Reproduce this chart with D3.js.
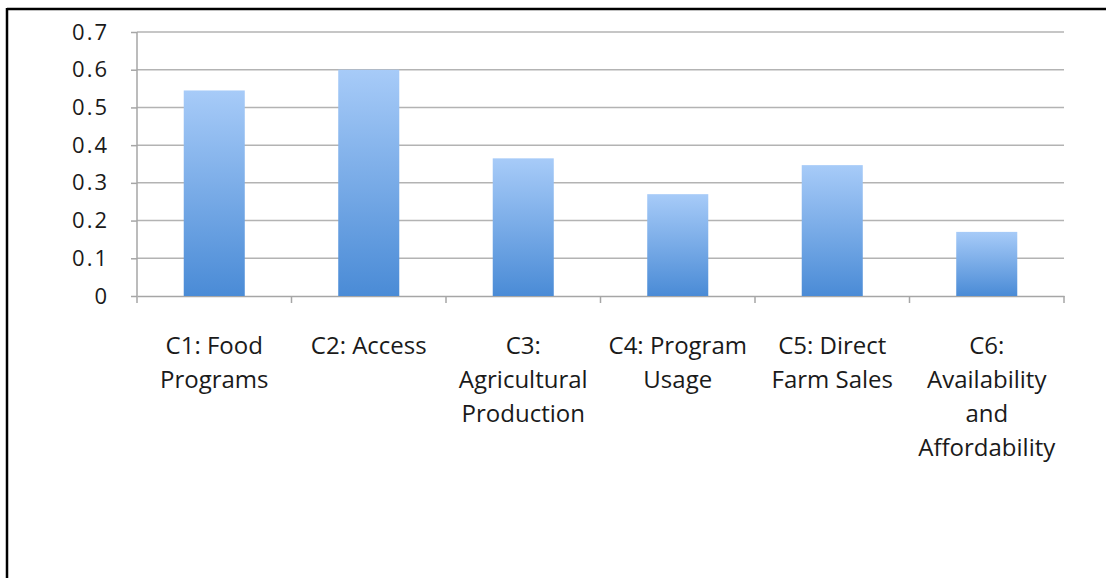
<!DOCTYPE html>
<html>
<head>
<meta charset="utf-8">
<script src="https://cdn.jsdelivr.net/npm/d3@7"></script>
<style>
  html, body { margin: 0; padding: 0; background: #fff; }
  svg { display: block; }
</style>
</head>
<body>
<script>
const categories = ["C1", "C2", "C3", "C4", "C5", "C6"];
const categoryLabels = [
  ["C1: Food", "Programs"],
  ["C2: Access"],
  ["C3:", "Agricultural", "Production"],
  ["C4: Program", "Usage"],
  ["C5: Direct", "Farm Sales"],
  ["C6:", "Availability", "and", "Affordability"]
];
const values = [0.545, 0.6, 0.365, 0.27, 0.347, 0.17];
const yTicks = [0, 0.1, 0.2, 0.3, 0.4, 0.5, 0.6, 0.7];

const W = 1106, H = 578;
const mLeft = 137, mRight = 1064, mTop = 32, mBottom = 296;

const svg = d3.select("body").append("svg").attr("width", W).attr("height", H);

// frame (top and left edges visible)
svg.append("line").attr("x1", 7).attr("x2", W).attr("y1", 9).attr("y2", 9)
  .attr("stroke", "#000").attr("stroke-width", 2.5);
svg.append("line").attr("x1", 7).attr("x2", 7).attr("y1", 8).attr("y2", H)
  .attr("stroke", "#000").attr("stroke-width", 2.5);

const defs = svg.append("defs");
const grad = defs.append("linearGradient").attr("id", "barGrad")
  .attr("x1", 0).attr("y1", 0).attr("x2", 0).attr("y2", 1);
grad.append("stop").attr("offset", "0%").attr("stop-color", "#a7cbf8");
grad.append("stop").attr("offset", "100%").attr("stop-color", "#4a8bd6");

const x = d3.scaleBand().domain(categories).range([mLeft, mRight]).paddingInner(0).paddingOuter(0);
const y = d3.scaleLinear().domain([0, 0.7]).range([mBottom, mTop]);

// gridlines
svg.append("g").selectAll("line").data(yTicks.filter(d => d > 0)).join("line")
  .attr("x1", mLeft).attr("x2", mRight)
  .attr("y1", d => y(d)).attr("y2", d => y(d))
  .attr("stroke", "#b3b3b3").attr("stroke-width", 1.5);

// y axis
const yAxis = svg.append("g").attr("transform", `translate(${mLeft},0)`)
  .call(d3.axisLeft(y).tickValues(yTicks).tickFormat(d => d === 0 ? "0" : d3.format(".1f")(d)).tickSize(6).tickPadding(22));
yAxis.select(".domain").attr("stroke", "#a6a6a6").attr("stroke-width", 1.5).attr("d", `M0,${mTop}V${mBottom}`);
yAxis.selectAll(".tick line").attr("stroke", "#a6a6a6").attr("stroke-width", 1.5);
yAxis.selectAll("text").attr("font-family", "'Open Sans', Lato, sans-serif")
  .attr("font-size", 22).attr("letter-spacing", "2px").attr("fill", "#1a1a1a");

// x axis
const xAxis = svg.append("g").attr("transform", `translate(0,${mBottom})`)
  .call(d3.axisBottom(x).tickSize(0).tickFormat(""));
xAxis.select(".domain").attr("stroke", "#a6a6a6").attr("stroke-width", 1.5);
const boundaries = categories.map(c => x(c)).concat([x(categories[categories.length - 1]) + x.bandwidth()]);
xAxis.selectAll(".bound").data(boundaries).join("line").attr("class", "bound")
  .attr("x1", d => d).attr("x2", d => d).attr("y1", 0).attr("y2", 7)
  .attr("stroke", "#a6a6a6").attr("stroke-width", 1.5);

// bars
const bw = x.bandwidth() * 0.395;
svg.append("g").selectAll("rect").data(values).join("rect")
  .attr("x", (d, i) => x(categories[i]) + (x.bandwidth() - bw) / 2)
  .attr("width", bw)
  .attr("y", d => y(d))
  .attr("height", d => mBottom - y(d))
  .attr("fill", "url(#barGrad)");

// category labels
const lab = svg.append("g");
categoryLabels.forEach((lines, i) => {
  const cx = x(categories[i]) + x.bandwidth() / 2;
  const t = lab.append("text").attr("text-anchor", "middle")
    .attr("font-family", "'Open Sans', Lato, sans-serif").attr("font-size", 24).attr("fill", "#1a1a1a");
  lines.forEach((ln, j) => {
    t.append("tspan").attr("x", cx).attr("y", 354 + j * 34).text(ln);
  });
});
</script>
</body>
</html>
